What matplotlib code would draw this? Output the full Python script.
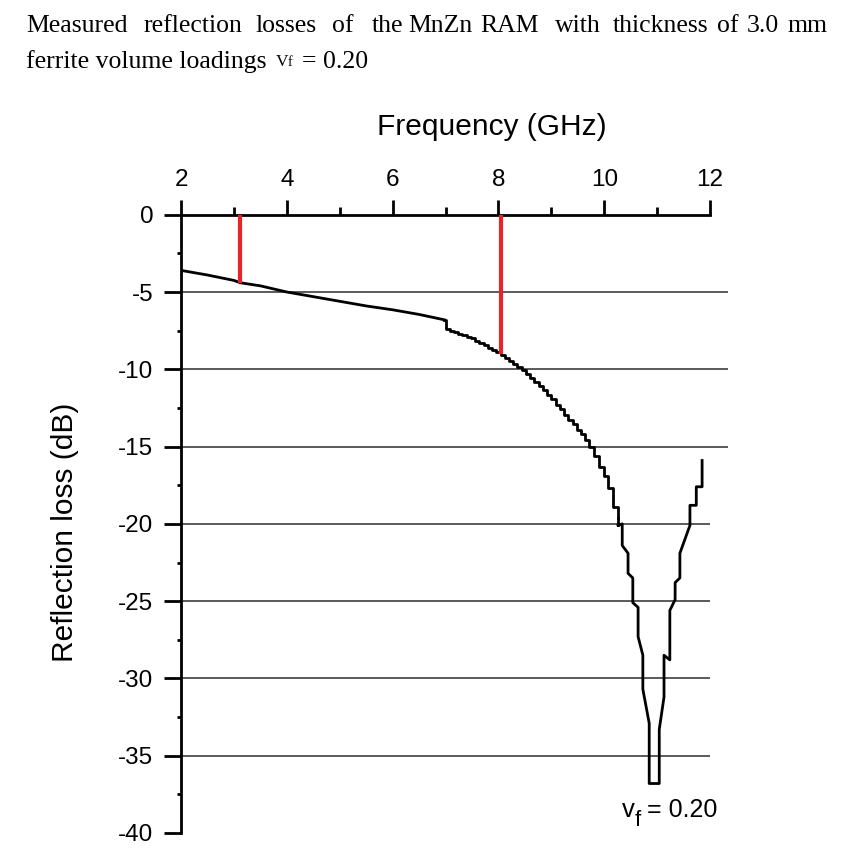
"""Reflection loss of MnZn RAM (3.0 mm, vf = 0.20)."""

import matplotlib
matplotlib.use('Agg')
import matplotlib.pyplot as plt
import matplotlib.ticker as mticker

plt.rcParams['axes.unicode_minus'] = False

# upper, smooth part of the sweep (GHz, dB)
sweep_freq = [2.0, 2.5, 3.0, 3.12, 3.5, 4.0, 4.5, 5.0, 5.5, 6.0, 6.5, 6.98]
sweep_loss = [-3.6, -3.9, -4.25, -4.4, -4.6, -5.0, -5.3, -5.6, -5.9, -6.15, -6.45, -6.8]

# stepped part of the sweep after the jump near 7 GHz
step_freq = [6.98, 7.0, 7.08, 7.16, 7.24, 7.32, 7.4, 7.48, 7.56, 7.64, 7.72, 7.8,
             7.88, 7.96, 8.04, 8.12, 8.2, 8.28, 8.36, 8.44, 8.52, 8.6, 8.68, 8.76,
             8.84, 8.92, 9.0, 9.08, 9.16, 9.24, 9.32, 9.4, 9.48, 9.56, 9.64, 9.72,
             9.8, 9.9, 10.0, 10.08, 10.17, 10.26]
step_loss = [-6.8, -7.4, -7.5, -7.6, -7.7, -7.8, -7.9, -8.0, -8.15, -8.3, -8.45, -8.6,
             -8.75, -8.9, -9.05, -9.25, -9.45, -9.65, -9.85, -10.05, -10.3, -10.55, -10.8, -11.1,
             -11.35, -11.65, -11.95, -12.3, -12.6, -12.95, -13.25, -13.55, -13.9, -14.2, -14.6, -15.0,
             -15.6, -16.3, -16.9, -17.7, -18.9, -19.6]

# absorption notch (vertices as digitised)
notch_freq = [10.26, 10.34, 10.34, 10.45, 10.45, 10.54, 10.54, 10.64, 10.64, 10.73,
              10.73, 10.85, 10.85, 11.04, 11.04, 11.13, 11.13, 11.24, 11.24, 11.34,
              11.34, 11.43, 11.43, 11.62, 11.62, 11.74, 11.74, 11.85, 11.85]
notch_loss = [-20.1, -20.0, -21.4, -21.9, -23.2, -23.5, -25.1, -25.4, -27.3, -28.5,
              -30.7, -32.9, -36.8, -36.8, -33.3, -31.2, -28.5, -28.8, -25.6, -24.9,
              -23.8, -23.5, -21.9, -20.1, -18.8, -18.8, -17.6, -17.6, -15.9]

# red markers
marker_freq = [3.12, 8.05]
marker_loss = [-4.4, -9.0]

grid_levels = [-5, -10, -15, -20, -25, -30, -35]

fig = plt.figure(figsize=(8.5, 8.59), dpi=100)
ax = fig.add_axes([0.213, 0.0303, 0.6435, 0.7197])

sans = 'Liberation Sans'
serif = 'Liberation Serif'

for lvl in grid_levels:
    xmax = 12.34 if lvl >= -15 else 12.0
    ax.hlines(lvl, 2, xmax, color='#4d4d4d', lw=1.3, zorder=1)

ax.plot(sweep_freq, sweep_loss, color='black', lw=2, zorder=3)
ax.plot(step_freq, step_loss, color='black', lw=2, drawstyle='steps-post', zorder=3)
ax.plot([step_freq[-1], notch_freq[0]], [step_loss[-1], notch_loss[0]], color='black', lw=2, zorder=3)
ax.plot(notch_freq, notch_loss, color='black', lw=2, zorder=3)

ax.vlines(marker_freq, marker_loss, 0, color='#e8242b', lw=3, zorder=4)

ax.set_xlim(2, 12.34)
ax.set_ylim(-40, 0)

for side in ['right', 'bottom']:
    ax.spines[side].set_visible(False)
ax.spines['top'].set_bounds(2, 12)
ax.spines['top'].set_linewidth(2)
ax.spines['left'].set_linewidth(2)

ax.xaxis.tick_top()
ax.xaxis.set_label_position('top')
ax.xaxis.set_major_locator(mticker.FixedLocator([2, 4, 6, 8, 10, 12]))
ax.xaxis.set_minor_locator(mticker.FixedLocator([3, 5, 7, 9, 11]))
ax.yaxis.set_major_locator(mticker.MultipleLocator(5))
ax.yaxis.set_minor_locator(mticker.MultipleLocator(2.5))
ax.tick_params(axis='x', which='major', direction='out', length=11, width=2, pad=6, labelsize=17.5)
ax.tick_params(axis='x', which='minor', direction='out', length=6, width=2)
ax.tick_params(axis='y', which='major', direction='out', length=12, width=2, pad=8, labelsize=17.5)
ax.tick_params(axis='y', which='minor', direction='out', length=3, width=2)
for lab in ax.get_xticklabels() + ax.get_yticklabels():
    lab.set_fontfamily(sans)

ax.set_xlabel('Frequency (GHz)', fontsize=21.5, family=sans)
ax.xaxis.set_label_coords((492 - 181) / 547, 1 + (215 - 127) / 618, transform=ax.transAxes)
ax.xaxis.label.set_va('center')
ax.set_ylabel('Reflection loss (dB)', fontsize=21.5, family=sans)
ax.yaxis.set_label_coords((65 - 181) / 547, (833 - 532) / 618, transform=ax.transAxes)
ax.yaxis.label.set_va('center')

# curve label: v, lowered f, then "= 0.20"
ax.text(10.34, -38.96, 'v', fontsize=18.5, family=sans, va='baseline')
ax.text(10.58, -39.55, 'f', fontsize=16, family=sans, va='baseline')
ax.text(10.80, -38.96, '= 0.20', fontsize=18, family=sans, va='baseline')

# justified caption above the chart
words = ['Measured', 'reflection', 'losses', 'of', 'the', 'MnZn', 'RAM', 'with',
         'thickness', 'of', '3.0', 'mm']
word_x = [26, 143, 256, 332, 372, 408, 480, 555, 613, 717, 747, 787]
for w, x in zip(words, word_x):
    fig.text(x / 850, 1 - 32 / 859, w, fontsize=18.5, family=serif, va='baseline')
fig.text(26 / 850, 1 - 68 / 859, 'ferrite volume loadings', fontsize=18.5, family=serif, va='baseline')
fig.text(276 / 850, 1 - 66 / 859, 'V', fontsize=12.5, family=serif, va='baseline')
fig.text(288 / 850, 1 - 66 / 859, 'f', fontsize=10, family=serif, va='baseline')
fig.text(302 / 850, 1 - 68 / 859, '= 0.20', fontsize=18.5, family=serif, va='baseline')

fig.savefig('out.png', dpi=100)
